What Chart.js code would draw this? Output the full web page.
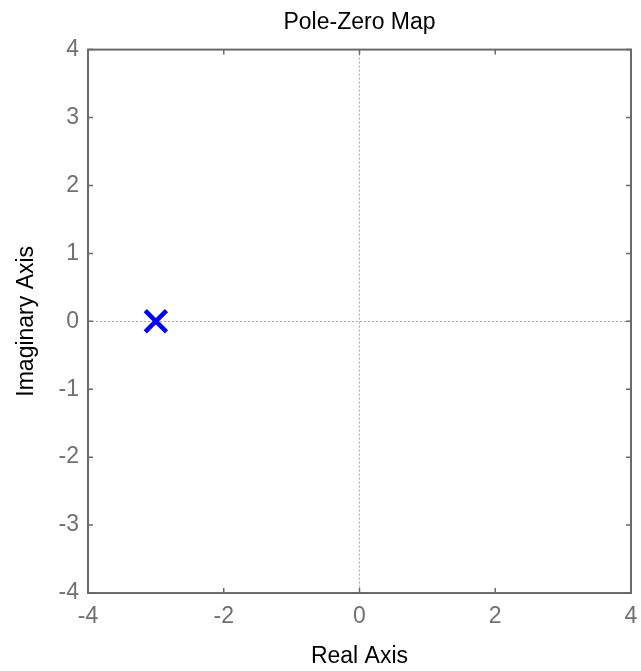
<!DOCTYPE html>
<html>
<head>
<meta charset="utf-8">
<script src="https://cdn.jsdelivr.net/npm/chart.js"></script>
<style>
  html, body { margin: 0; padding: 0; background: #fff; }
  #wrap { width: 641px; height: 671px; }
</style>
</head>
<body>
<div id="wrap"><canvas id="myChart" width="641" height="671"></canvas></div>
<script>
var poleReal = [-3];
var poleImag = [0];
var xTicks = [-4, -2, 0, 2, 4];
var yTicks = [-4, -3, -2, -1, 0, 1, 2, 3, 4];

// box round the plot plus the small inward tick marks on every side
var frame = {
    id: "frame",
    afterDraw: function(chart){
        var c = chart.ctx, a = chart.chartArea;
        var sx = chart.scales.x, sy = chart.scales.y;
        c.save();
        c.strokeStyle = "#6a6a6a";
        c.lineWidth = 2;
        c.strokeRect(a.left, a.top, a.right - a.left, a.bottom - a.top);
        c.lineWidth = 1.5;
        c.beginPath();
        xTicks.forEach(function(v){
            var px = sx.getPixelForValue(v);
            c.moveTo(px, a.bottom); c.lineTo(px, a.bottom - 5);
            c.moveTo(px, a.top); c.lineTo(px, a.top + 5);
        });
        yTicks.forEach(function(v){
            var py = sy.getPixelForValue(v);
            c.moveTo(a.left, py); c.lineTo(a.left + 5, py);
            c.moveTo(a.right, py); c.lineTo(a.right - 5, py);
        });
        c.stroke();
        c.restore();
    }
};

function zeroLine(ctx){
    return ctx.tick && ctx.tick.value === 0 ? "#a8a8a8" : "rgba(0,0,0,0)";
}

function noMargins(s){
    s.paddingLeft = 0; s.paddingRight = 0;
    s.paddingTop = 0; s.paddingBottom = 0;
}

var ctx = document.getElementById("myChart").getContext("2d");
var chart = new Chart(ctx, {
    type: "scatter",
    data: {
        datasets: [{
            label: "Poles",
            data: poleReal.map(function(r, i){ return {x: r, y: poleImag[i]}; }),
            pointStyle: "crossRot",
            pointRadius: 15,
            pointHoverRadius: 15,
            borderColor: "#0000ff",
            backgroundColor: "#0000ff",
            borderWidth: 4.5
        }]
    },
    options: {
        responsive: false,
        animation: false,
        layout: { autoPadding: false, padding: { left: 0, right: 10, top: 0, bottom: 0 } },
        plugins: {
            legend: { display: false },
            tooltip: { enabled: false },
            title: {
                display: true,
                fullSize: false,
                text: "Pole-Zero Map",
                color: "#000",
                font: { family: "Liberation Sans, Arial", size: 23, weight: "normal" },
                padding: { top: 9, bottom: 13 }
            }
        },
        scales: {
            x: {
                type: "linear",
                min: -4, max: 4,
                afterFit: function(s){ s.height = 78; noMargins(s); },
                afterBuildTicks: function(s){ s.ticks = xTicks.map(function(v){ return {value: v}; }); },
                ticks: { color: "#707070", padding: 10, font: { family: "Liberation Sans, Arial", size: 23 } },
                grid: { color: zeroLine, drawTicks: false, lineWidth: 1 },
                border: { display: false, dash: [2, 2] },
                title: {
                    display: true,
                    text: "Real Axis",
                    color: "#000",
                    font: { family: "Liberation Sans, Arial", size: 23 },
                    padding: { top: 0, bottom: 1 }
                }
            },
            y: {
                type: "linear",
                min: -4, max: 4,
                afterFit: function(s){ s.width = 88; noMargins(s); },
                afterBuildTicks: function(s){ s.ticks = yTicks.map(function(v){ return {value: v}; }); },
                ticks: { color: "#707070", padding: 9, font: { family: "Liberation Sans, Arial", size: 23 } },
                grid: { color: zeroLine, drawTicks: false, lineWidth: 1 },
                border: { display: false, dash: [2, 2] },
                title: {
                    display: true,
                    text: "Imaginary Axis",
                    color: "#000",
                    font: { family: "Liberation Sans, Arial", size: 23 },
                    padding: { top: 13, bottom: 0 }
                }
            }
        }
    },
    plugins: [frame]
});
</script>
</body>
</html>
